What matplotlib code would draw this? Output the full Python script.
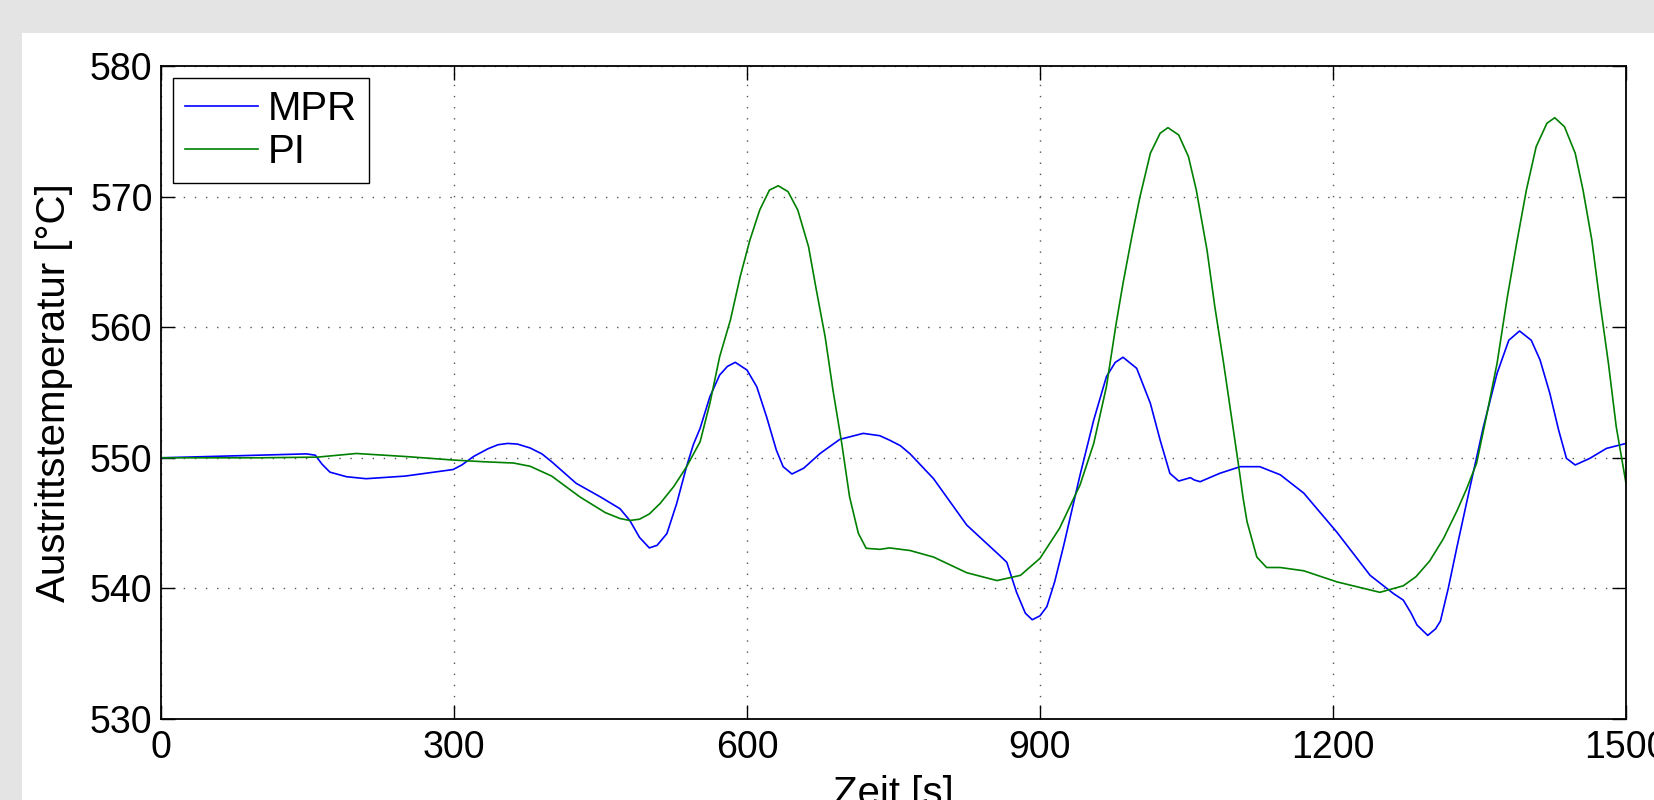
#!/usr/bin/env python

import matplotlib
matplotlib.use('Agg')
import matplotlib.pyplot as plt
from matplotlib.patches import Rectangle

matplotlib.rc('font', family=['Liberation Sans', 'DejaVu Sans'], size=29)

# MPR controller: outlet temperature over time
t_mpr = [0, 50, 100, 149, 158, 165, 173, 190, 210, 250, 299, 308, 320, 335,
         345, 355, 365, 378, 390, 400, 425, 450, 470, 480, 490, 500, 508,
         518, 528, 538, 545, 552, 562, 572, 580, 588, 600, 610, 620, 630,
         637, 646, 658, 675, 695, 719, 736, 746, 757, 767, 791, 825, 859,
         866, 876, 885, 892, 900, 907, 915, 924, 941, 955, 968, 977, 985,
         999, 1013, 1023, 1033, 1042, 1048, 1054, 1058, 1064, 1084, 1105,
         1125, 1146, 1170, 1204, 1238, 1262, 1272, 1280, 1286, 1297, 1305,
         1310, 1318, 1327, 1340, 1354, 1368, 1380, 1391, 1403, 1412, 1422,
         1431, 1439, 1448, 1463, 1480, 1500]
T_mpr = [550.0, 550.1, 550.2, 550.3, 550.2, 549.5, 548.9, 548.55, 548.4,
         548.6, 549.1, 549.45, 550.1, 550.7, 551.0, 551.1, 551.05, 550.75,
         550.3, 549.7, 548.05, 547.0, 546.1, 545.2, 543.9, 543.1, 543.3,
         544.2, 546.5, 549.3, 551.0, 552.26, 554.68, 556.34, 557.0, 557.31,
         556.72, 555.44, 553.15, 550.6, 549.32, 548.76, 549.2, 550.34,
         551.41, 551.87, 551.69, 551.35, 550.93, 550.3, 548.4, 544.85,
         542.5, 542.0, 539.7, 538.1, 537.6, 537.9, 538.6, 540.5, 543.2,
         548.68, 552.89, 556.21, 557.3, 557.7, 556.85, 554.17, 551.36,
         548.81, 548.22, 548.35, 548.48, 548.3, 548.17, 548.81, 549.32,
         549.32, 548.7, 547.3, 544.3, 541.0, 539.6, 539.1, 538.1, 537.2,
         536.4, 536.9, 537.5, 540.0, 543.2, 547.66, 552.38, 556.47, 559.0,
         559.71, 559.0, 557.49, 554.94, 552.13, 549.96, 549.45, 549.96,
         550.72, 551.1]

# PI controller
t_pi = [0, 100, 160, 200, 250, 299, 330, 361, 378, 400, 429, 455, 470, 480,
        490, 500, 511, 525, 538, 552, 562, 572, 583, 593, 603, 613, 623,
        632, 642, 652, 663, 671, 680, 688, 697, 705, 714, 722, 736, 746,
        767, 791, 825, 856, 880, 900, 920, 941, 955, 968, 978, 985, 994,
        1002, 1013, 1023, 1031, 1042, 1052, 1060, 1071, 1079, 1088, 1096,
        1103, 1108, 1112, 1122, 1132, 1146, 1170, 1204, 1248, 1272, 1285,
        1299, 1313, 1327, 1337, 1347, 1357, 1368, 1378, 1388, 1398, 1408,
        1419, 1427, 1437, 1448, 1456, 1465, 1473, 1482, 1490, 1500]
T_pi = [550.0, 550.0, 550.05, 550.33, 550.1, 549.83, 549.7, 549.6, 549.35,
        548.6, 547.0, 545.8, 545.35, 545.2, 545.3, 545.7, 546.5, 547.8,
        549.3, 551.23, 554.17, 557.74, 560.55, 563.87, 566.68, 568.97,
        570.5, 570.83, 570.38, 568.97, 566.17, 562.85, 559.27, 555.19,
        551.11, 547.02, 544.22, 543.07, 542.99, 543.1, 542.9, 542.4, 541.2,
        540.6, 541.0, 542.3, 544.6, 547.92, 551.1, 555.44, 560.29, 563.36,
        566.93, 569.87, 573.32, 574.85, 575.28, 574.72, 573.06, 570.51,
        565.91, 561.57, 557.24, 553.15, 549.58, 546.9, 545.1, 542.4, 541.6,
        541.6, 541.35, 540.5, 539.7, 540.2, 540.9, 542.1, 543.8, 545.95,
        547.66, 549.58, 553.15, 557.24, 562.08, 566.42, 570.5, 573.82,
        575.61, 576.04, 575.35, 573.32, 570.5, 566.68, 562.08, 557.24,
        552.38, 548.05]

xticks = [0, 300, 600, 900, 1200, 1500]
yticks = [530, 540, 550, 560, 570, 580]

fig = plt.figure(figsize=(16.54, 8), dpi=100, facecolor='#e4e4e4')
# white panel behind the axes
panel = Rectangle((22/1654, 0), 1, 1 - 33/800, transform=fig.transFigure,
                  facecolor='white', edgecolor='none', zorder=-10)
fig.add_artist(panel)

ax = fig.add_axes([161/1654, 81/800, 1465/1654, 653/800])
ax.plot(t_mpr, T_mpr, color='#0000ff', lw=1.2, label='MPR')
ax.plot(t_pi, T_pi, color='#008000', lw=1.2, label='PI')

ax.set_xlim(0, 1500)
ax.set_ylim(530, 580)
ax.set_xticks(xticks)
ax.set_yticks(yticks)
ax.tick_params(direction='in', length=10, width=1, top=True, right=True,
               labelsize=27)
ax.tick_params(axis='x', pad=8)
ax.tick_params(axis='y', pad=6)
ax.grid(True, color='#555555', linestyle=(0, (1, 7)), linewidth=1.0)
for s in ax.spines.values():
    s.set_linewidth(1.3)

ax.set_xlabel('Zeit [s]')
ax.set_ylabel('Austrittstemperatur [°C]')
ax.xaxis.set_label_coords(0.5, -0.0855)
ax.yaxis.set_label_coords(-0.060, 0.5)

leg = ax.legend(loc='upper left', fancybox=False, edgecolor='black',
                framealpha=1, borderaxespad=0.3, borderpad=0.3,
                handlelength=1.8, handletextpad=0.25, labelspacing=0.12)
leg.get_frame().set_linewidth(1.0)

plt.savefig('out.png', dpi=100, facecolor=fig.get_facecolor())
